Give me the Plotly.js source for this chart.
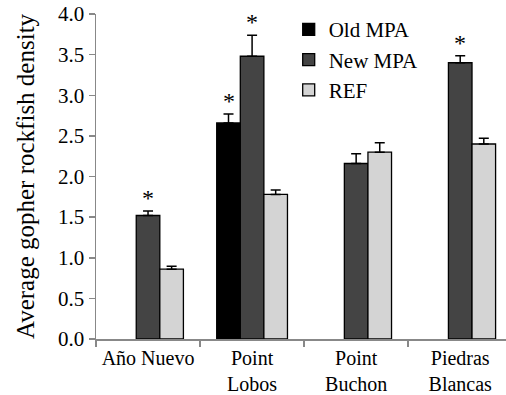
<!DOCTYPE html>
<html>
<head>
<meta charset="utf-8">
<script src="https://cdn.plot.ly/plotly-3.0.1.min.js"></script>
<style>html,body{margin:0;padding:0;background:#fff;}#chart{width:506px;height:395px;}</style>
</head>
<body>
<div id="chart"></div>
<script>
const categories = ['Año Nuevo', 'Point<br>Lobos', 'Point<br>Buchon', 'Piedras<br>Blancas'];
const oldMPA = [null, 2.66, null, null];
const oldMPAErr = [0, 0.11, 0, 0];
const oldMPASig = [false, true, false, false];
const newMPA = [1.52, 3.48, 2.16, 3.40];
const newMPAErr = [0.055, 0.26, 0.12, 0.085];
const newMPASig = [true, true, false, true];
const ref = [0.86, 1.78, 2.30, 2.40];
const refErr = [0.035, 0.055, 0.115, 0.07];
const refSig = [false, false, false, false];
const yTicks = [0, 0.5, 1, 1.5, 2, 2.5, 3, 3.5, 4];

const FONT = 'Liberation Serif';
const series = [
  {name: 'Old MPA', y: oldMPA, err: oldMPAErr, sig: oldMPASig, color: '#000000'},
  {name: 'New MPA', y: newMPA, err: newMPAErr, sig: newMPASig, color: '#444444'},
  {name: 'REF', y: ref, err: refErr, sig: refSig, color: '#d4d4d4'}
];
const bargap = 0.32;
const slotW = (1 - bargap) / series.length;

const traces = series.map(s => ({
  type: 'bar', name: s.name, x: categories, y: s.y,
  marker: {color: s.color, line: {color: '#000', width: 1.3}},
  error_y: {type: 'data', symmetric: false, array: s.err, arrayminus: s.err.map(() => 0),
            color: '#000', thickness: 1.5, width: 5},
  hoverinfo: 'none'
}));

const annotations = [];
series.forEach((s, si) => {
  s.sig.forEach((flag, ci) => {
    if (flag && s.y[ci] != null) {
      annotations.push({
        x: ci + (si - (series.length - 1) / 2) * slotW, xref: 'x',
        y: s.y[ci] + s.err[ci], yref: 'y',
        text: '*', showarrow: false, yanchor: 'bottom', yshift: -2,
        font: {family: FONT, size: 24, color: '#000000'}
      });
    }
  });
});

const layout = {
  width: 506, height: 395,
  margin: {l: 96, r: 0, t: 14, b: 56},
  paper_bgcolor: '#fff', plot_bgcolor: '#fff',
  barmode: 'group', bargap: bargap, bargroupgap: 0,
  font: {family: FONT, size: 20, color: '#000000'},
  showlegend: true,
  legend: {x: 0.47, y: 1.015, xanchor: 'left', yanchor: 'top', bgcolor: 'rgba(0,0,0,0)',
           font: {family: FONT, size: 21, color: '#000000'}, itemwidth: 30, tracegroupgap: 0},
  xaxis: {
    type: 'category', range: [-0.5, 3.44], showgrid: false, zeroline: false,
    showline: true, linecolor: '#888', linewidth: 1.5,
    ticks: 'outside', tickson: 'boundaries', ticklen: 6, tickcolor: '#888', tickwidth: 1.5,
    tickfont: {family: FONT, size: 20, color: '#000000'}, fixedrange: true
  },
  yaxis: {
    range: [0, 4], tickvals: yTicks, tickformat: '.1f', showgrid: false, zeroline: false,
    showline: true, linecolor: '#888', linewidth: 1.5,
    ticks: 'outside', ticklen: 6, tickcolor: '#888', tickwidth: 1.5,
    tickfont: {family: FONT, size: 21, color: '#000000'},
    title: {text: 'Average gopher rockfish density', font: {family: FONT, size: 25, color: '#000000'}, standoff: 16},
    fixedrange: true
  },
  annotations: annotations
};

Plotly.newPlot('chart', traces, layout, {displayModeBar: false, staticPlot: true});
</script>
</body>
</html>
